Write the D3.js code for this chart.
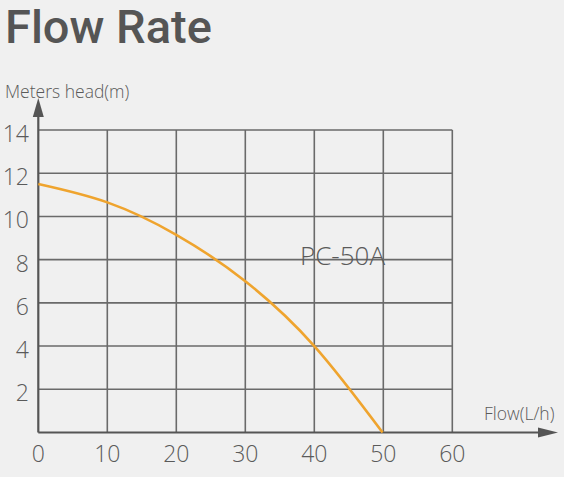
<!DOCTYPE html>
<html>
<head>
<meta charset="utf-8">
<script src="https://cdn.jsdelivr.net/npm/d3@7"></script>
<style>
  html, body { margin: 0; padding: 0; background: #f0f0f0; }
  svg { display: block; }
  text { font-family: "Open Sans", "Noto Sans", sans-serif; fill: #5a5a5a; }
</style>
</head>
<body>
<script>
// pump curve
var flow = [0, 10, 20, 30, 40, 49.9];
var head = [11.5, 10.65, 9.15, 7.0, 4.0, 0];
var xTicks = [0, 10, 20, 30, 40, 50, 60];
var yTicks = [2, 4, 6, 8, 10, 12, 14];

var width = 564, height = 477;
var margin = {left: 38.3, top: 130, right: 452.3, bottom: 432.5};

var svg = d3.select('body').append('svg')
  .attr('width', width)
  .attr('height', height);

var x = d3.scaleLinear().domain([0, 60]).range([margin.left, margin.right]);
var y = d3.scaleLinear().domain([0, 14]).range([margin.bottom, margin.top]);

// title
svg.append('text')
  .attr('x', 5).attr('y', 43)
  .style('font-family', 'Roboto, sans-serif')
  .style('font-size', '47px').style('font-weight', 500)
  .style('fill', '#555')
  .text('Flow Rate');

// grid
svg.append('g').selectAll('line')
  .data(xTicks.slice(1))
  .enter().append('line')
  .attr('x1', function(d) { return x(d); })
  .attr('x2', function(d) { return x(d); })
  .attr('y1', y(14)).attr('y2', y(0))
  .attr('stroke', '#6a6a6a').attr('stroke-width', 1.6);

svg.append('g').selectAll('line')
  .data(yTicks)
  .enter().append('line')
  .attr('x1', x(0)).attr('x2', x(60))
  .attr('y1', function(d) { return y(d); })
  .attr('y2', function(d) { return y(d); })
  .attr('stroke', '#6a6a6a').attr('stroke-width', 1.6);

// axes with arrows
svg.append('line')
  .attr('x1', x(0)).attr('x2', x(0))
  .attr('y1', y(0)).attr('y2', 112)
  .attr('stroke', '#555').attr('stroke-width', 2.2);
svg.append('path')
  .attr('d', 'M' + (x(0) - 5.5) + ',117 L' + x(0) + ',98 L' + (x(0) + 5.5) + ',117 Z')
  .attr('fill', '#555');

svg.append('line')
  .attr('x1', x(0)).attr('x2', 542)
  .attr('y1', y(0)).attr('y2', y(0))
  .attr('stroke', '#555').attr('stroke-width', 2.2);
svg.append('path')
  .attr('d', 'M538,' + (y(0) - 5) + ' L558,' + y(0) + ' L538,' + (y(0) + 5) + ' Z')
  .attr('fill', '#555');

// tick labels
svg.append('g').selectAll('text')
  .data(yTicks)
  .enter().append('text')
  .attr('x', 29)
  .attr('y', function(d) { return y(d) + 12; })
  .attr('text-anchor', 'end')
  .style('font-size', '23px').style('font-weight', 300)
  .text(function(d) { return d; });

svg.append('g').selectAll('text')
  .data(xTicks)
  .enter().append('text')
  .attr('x', function(d) { return x(d); })
  .attr('y', 462)
  .attr('text-anchor', 'middle')
  .style('font-size', '23px').style('font-weight', 300)
  .text(function(d) { return d; });

// axis titles
svg.append('text')
  .attr('x', 5).attr('y', 98)
  .style('font-size', '17.5px').style('font-weight', 300)
  .text('Meters head(m)');

svg.append('text')
  .attr('x', 484).attr('y', 420)
  .style('font-size', '17.5px').style('font-weight', 300)
  .text('Flow(L/h)');

// curve
var line = d3.line()
  .x(function(d) { return x(d[0]); })
  .y(function(d) { return y(d[1]); })
  .curve(d3.curveNatural);

svg.append('path')
  .datum(d3.zip(flow, head))
  .attr('d', line)
  .attr('fill', 'none')
  .attr('stroke', '#efa42e')
  .attr('stroke-width', 2.6);

// model label
svg.append('text')
  .attr('x', 300).attr('y', 265)
  .style('font-size', '26px').style('font-weight', 300)
  .text('PC-50A');
</script>
</body>
</html>
